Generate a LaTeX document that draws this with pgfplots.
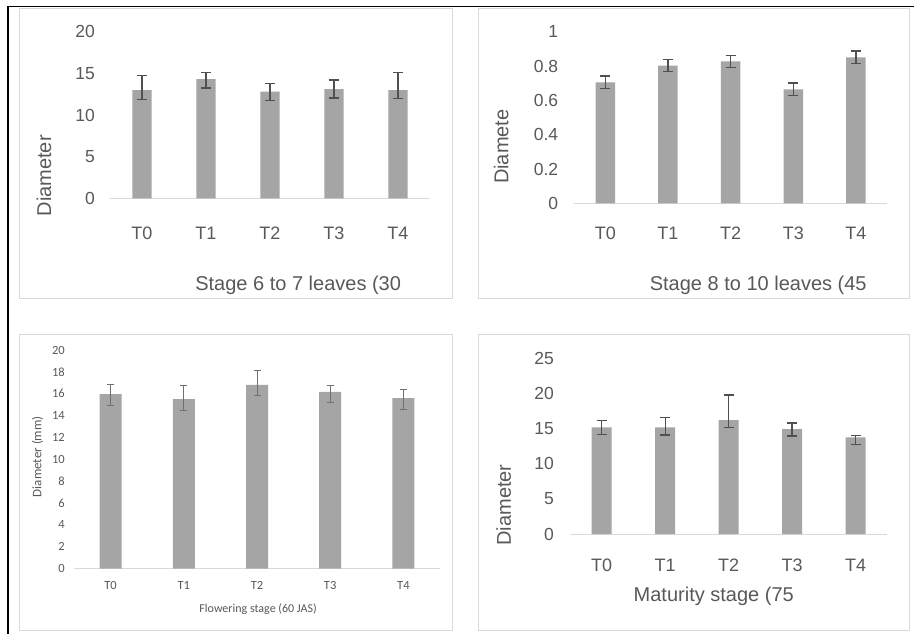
\documentclass[border=0pt]{standalone}
\usepackage{fontspec}
\setmainfont{Liberation Sans}
\newfontfamily\calibri{Carlito}
\usepackage{pgfplots}
\usepackage{pgfplotstable}
\pgfplotsset{compat=1.18}
\definecolor{txt}{HTML}{595959}
\definecolor{barc}{HTML}{A5A5A5}
\definecolor{errc}{HTML}{505050}
\definecolor{errd}{HTML}{707070}
\definecolor{frm}{HTML}{D9D9D9}

% Stage 6 to 7 leaves
\pgfplotstableread{
x y ep em
0 13.00 1.72 1.12
1 14.32 0.76 1.08
2 12.80 0.96 1.08
3 13.12 1.08 1.08
4 13.00 2.12 1.04
}\tabA
% Stage 8 to 10 leaves
\pgfplotstableread{
x y ep em
0 0.705 0.036 0.036
1 0.802 0.035 0.035
2 0.827 0.035 0.035
3 0.664 0.037 0.037
4 0.851 0.036 0.036
}\tabB
% Flowering stage
\pgfplotstableread{
x y ep em
0 15.97 0.92 1.00
1 15.51 1.22 1.04
2 16.80 1.34 0.92
3 16.18 0.61 0.98
4 15.60 0.76 1.00
}\tabC
% Maturity stage
\pgfplotstableread{
x y ep em
0 15.18 0.95 1.00
1 15.18 1.38 1.10
2 16.22 3.56 1.10
3 14.94 0.85 1.00
4 13.76 0.28 1.00
}\tabD

\pgfplotsset{
  panel/.style={
    scale only axis, anchor=south west,
    /pgf/number format/assume math mode=true,
    axis x line=bottom, axis y line=left,
    x axis line style={draw=frm, line width=1bp, -},
    y axis line style={draw=none},
    tick style={draw=none}, major tick length=0pt,
    xmin=-0.5, xmax=4.5, ymin=0,
    enlarge x limits=false, enlarge y limits=false,
    xtick={0,1,2,3,4}, xticklabels={T0,T1,T2,T3,T4},
    ybar,
    ticklabel style={text=txt},
    label style={text=txt},
    yticklabel style={anchor=east, inner sep=0pt},
    xticklabel style={anchor=center, inner sep=0pt},
    clip=false,
  },
  arialpanel/.style={
    panel,
    yticklabel style={font=\fontsize{17.5bp}{20bp}\selectfont},
    xticklabel style={font=\fontsize{18bp}{20bp}\selectfont},
    xlabel style={font=\fontsize{20bp}{22bp}\selectfont, anchor=base},
    ylabel style={font=\fontsize{20bp}{22bp}\selectfont, anchor=center},
  },
}

\begin{document}
\begin{tikzpicture}
\useasboundingbox (0,0) rectangle (914bp,-634bp);
\fill[white] (0,0) rectangle (914bp,-634bp);
% page borders
\draw[black, line width=1.3bp] (8bp,-634bp) -- (8bp,-6.7bp) -- (914bp,-6.7bp);
% chart frames
\draw[frm, line width=1bp] (19bp,-8.5bp) rectangle (452bp,-298bp);
\draw[frm, line width=1bp] (478bp,-8.5bp) rectangle (909bp,-298bp);
\draw[frm, line width=1bp] (19bp,-334.3bp) rectangle (452bp,-630bp);
\draw[frm, line width=1bp] (478bp,-334.3bp) rectangle (909bp,-630bp);

% Panel 1
\begin{axis}[arialpanel,
  at={(110bp,-198.3bp)}, width=320bp, height=166.6bp,
  ymax=20, ytick={0,5,10,15,20},
  yticklabel style={xshift=-15bp},
  xticklabel style={yshift=-34.7bp},
  ylabel={Diameter},
  ylabel style={at={(axis description cs:-0.206,0.135)}},
  xlabel={Stage 6 to 7 leaves (30},
  xlabel style={at={(axis description cs:0.588,-0.556)}},
]
\addplot[fill=barc, draw=none, bar width=19.3bp,
  error bars/.cd, y dir=both, y explicit, error mark=|,
  error bar style={draw=errc, line width=1.3bp},
  error mark options={draw=errc, line width=1.3bp, mark size=5bp}]
  table[x=x, y=y, y error plus=ep, y error minus=em]{\tabA};
\end{axis}

% Panel 2
\begin{axis}[arialpanel,
  at={(574bp,-203.3bp)}, width=313.3bp, height=171.6bp,
  ymax=1, ytick={0,0.2,0.4,0.6,0.8,1},
  yticklabel style={xshift=-15.7bp},
  xticklabel style={yshift=-29.7bp},
  ylabel={Diamete},
  ylabel style={at={(axis description cs:-0.232,0.330)}},
  xlabel={Stage 8 to 10 leaves (45},
  xlabel style={at={(axis description cs:0.588,-0.511)}},
]
\addplot[fill=barc, draw=none, bar width=19.5bp,
  error bars/.cd, y dir=both, y explicit, error mark=|,
  error bar style={draw=errc, line width=1.3bp},
  error mark options={draw=errc, line width=1.3bp, mark size=5bp}]
  table[x=x, y=y, y error plus=ep, y error minus=em]{\tabB};
\end{axis}

% Panel 3
\begin{axis}[panel,
  at={(74bp,-568.7bp)}, width=366bp, height=218.7bp,
  ymax=20, ytick={0,2,...,20},
  yticklabel style={xshift=-9bp, font=\calibri\fontsize{12.5bp}{14bp}\selectfont},
  xticklabel style={yshift=-16.3bp, font=\calibri\fontsize{12.5bp}{14bp}\selectfont},
  ylabel={Diameter (mm)},
  ylabel style={at={(axis description cs:-0.0997,0.512)}, anchor=center, font=\calibri\fontsize{13bp}{15bp}\selectfont},
  xlabel={Flowering stage (60 JAS)},
  xlabel style={at={(axis description cs:0.503,-0.198)}, anchor=base, font=\calibri\fontsize{12bp}{14bp}\selectfont},
]
\addplot[fill=barc, draw=none, bar width=22bp,
  error bars/.cd, y dir=both, y explicit, error mark=|,
  error bar style={draw=errd, line width=1bp},
  error mark options={draw=errd, line width=1bp, mark size=3.5bp}]
  table[x=x, y=y, y error plus=ep, y error minus=em]{\tabC};
\end{axis}

% Panel 4
\begin{axis}[arialpanel,
  at={(570bp,-534bp)}, width=317.3bp, height=175.7bp,
  ymax=25, ytick={0,5,10,15,20,25},
  yticklabel style={xshift=-16bp},
  xticklabel style={yshift=-31bp},
  ylabel={Diameter},
  ylabel style={at={(axis description cs:-0.2086,0.165)}},
  xlabel={Maturity stage (75},
  xlabel style={at={(axis description cs:0.453,-0.385)}},
]
\addplot[fill=barc, draw=none, bar width=20bp,
  error bars/.cd, y dir=both, y explicit, error mark=|,
  error bar style={draw=errc, line width=1.3bp},
  error mark options={draw=errc, line width=1.3bp, mark size=5bp}]
  table[x=x, y=y, y error plus=ep, y error minus=em]{\tabD};
\end{axis}
\end{tikzpicture}
\end{document}
